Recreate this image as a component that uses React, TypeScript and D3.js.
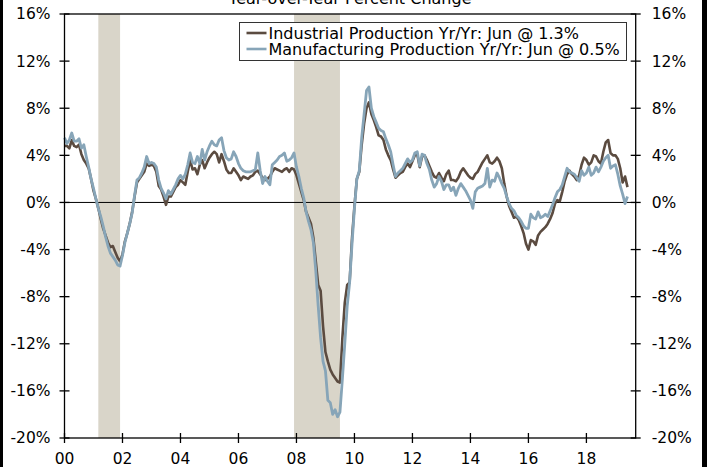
import React from 'react';
import * as d3 from 'd3';

const width = 707;
const height = 467;
const margin = { top: 14, right: 71.3, bottom: 29, left: 64.5 };

// monthly values, Jan 2000 .. Jun 2019
const ipValues = [
  4.8, 4.8, 4.6, 5.3, 4.8, 4.7, 4.9, 4.1, 3.6, 3.3, 2.9, 2.0,
  1.0, 0.3, -0.5, -1.4, -2.2, -2.8, -3.4, -3.8, -3.7, -4.2, -4.7, -5.0,
  -4.4, -3.3, -2.6, -1.8, -0.8, 0.5, 1.7, 2.0, 2.3, 2.6, 3.3, 3.1,
  3.2, 3.1, 2.6, 1.4, 1.1, 0.5, -0.2, 0.5, 0.5, 0.9, 1.3, 1.5,
  1.9, 1.7, 1.5, 2.6, 3.6, 2.8, 2.9, 2.4, 3.2, 3.6, 2.9, 3.4,
  3.8, 4.1, 4.3, 4.1, 3.4, 4.1, 3.5, 2.8, 2.5, 2.5, 2.9, 2.6,
  2.3, 1.9, 2.2, 2.1, 2.0, 2.2, 2.3, 2.6, 2.7, 2.4, 2.1, 1.9,
  2.0, 2.2, 2.6, 2.9, 2.8, 2.7, 2.6, 2.8, 2.9, 2.6, 2.9, 2.8,
  2.3, 1.6, 0.9, 0.2, -0.8, -1.3, -1.8, -3.0, -5.0, -7.0, -7.5, -10.5,
  -12.7, -13.5, -14.2, -14.6, -14.9, -15.2, -15.3, -11.5, -8.5, -7.0, -6.8, -3.0,
  -0.3, 2.0, 2.6, 4.9, 6.7, 8.0, 8.5, 7.5, 7.0, 6.4, 5.7, 5.6,
  5.3, 4.5, 4.0, 3.6, 2.8, 2.1, 2.3, 2.5, 2.6, 3.0, 3.3, 3.0,
  3.5, 4.0, 4.1, 3.0, 3.9, 4.0, 3.6, 3.1, 2.6, 2.2, 2.1, 2.5,
  2.1, 1.8, 2.4, 2.7, 1.9, 1.9, 1.8, 2.1, 2.6, 2.9, 2.6, 2.3,
  2.1, 2.0, 2.4, 2.6, 3.0, 3.4, 3.7, 4.0, 3.4, 3.3, 3.5, 3.8,
  3.5, 2.9, 1.6, 0.5, -0.3, -0.8, -1.3, -1.2, -1.5, -2.0, -2.6, -3.5,
  -4.0, -3.2, -3.3, -3.6, -2.8, -2.5, -2.3, -2.1, -1.8, -1.4, -0.9, -0.1,
  0.2, 0.1, 0.9, 1.8, 2.4, 2.7, 2.4, 2.2, 1.9, 2.3, 3.2, 3.8,
  3.6, 3.2, 3.4, 4.0, 3.9, 3.5, 3.3, 4.3, 5.1, 5.3, 4.2, 4.0,
  4.0, 3.7, 2.9, 1.7, 2.2, 1.3,
];

const mfgValues = [
  5.5, 5.0, 5.3, 5.9, 5.2, 5.2, 5.4, 4.6, 4.9, 3.9, 3.0, 2.0,
  1.2, 0.3, -0.5, -1.2, -2.0, -2.9, -3.7, -4.3, -4.6, -4.9, -5.3, -5.4,
  -4.5, -3.4, -2.6, -1.8, -0.9, 0.6, 1.9, 2.1, 2.5, 3.0, 3.9, 3.3,
  3.4, 3.3, 3.0, 1.9, 1.2, 0.8, 0.3, 1.0, 0.7, 1.1, 1.5, 2.0,
  2.3, 2.0, 2.4, 3.2, 4.2, 3.4, 3.3, 3.9, 3.3, 4.5, 3.6, 4.3,
  4.8, 5.2, 4.9, 4.8, 5.3, 5.5, 4.4, 3.8, 3.6, 3.7, 4.3, 3.9,
  3.3, 2.9, 2.7, 2.6, 2.6, 2.6, 2.7, 2.8, 4.2, 2.7, 1.6, 2.2,
  1.8, 1.5, 3.2, 3.4, 3.6, 3.9, 4.0, 4.2, 3.5, 3.6, 3.8, 4.2,
  3.0, 2.2, 1.2, 0.4, -0.8, -1.6, -2.3, -3.4, -5.8, -8.8, -11.5, -13.5,
  -14.3, -16.8, -17.0, -18.0, -17.6, -18.2, -17.8, -15.0, -12.0, -8.8, -6.8, -3.5,
  -0.5, 2.0, 2.7, 5.5, 7.5, 9.5, 9.8, 8.0, 7.3, 6.8, 6.3, 6.1,
  6.0, 5.4, 4.9, 4.3, 3.2, 2.2, 2.5, 2.7, 2.9, 3.3, 3.7, 3.4,
  3.6, 4.2, 4.3, 3.1, 4.1, 4.0, 3.3, 2.8, 1.9, 1.3, 1.6, 2.2,
  1.8, 1.1, 1.5, 1.5, 1.0, 1.3, 0.6, 1.2, 1.6, 1.3, 1.0, 0.6,
  0.2, -0.5, 0.9, 1.2, 1.3, 1.4, 1.6, 2.9, 1.3, 1.9, 1.8, 2.5,
  2.1, 1.6, 1.2, 0.5, -0.1, -0.5, -0.7, -1.1, -1.3, -1.6, -2.0, -2.2,
  -2.2, -1.0, -1.3, -1.4, -0.8, -1.3, -1.2, -1.0, -1.2, -0.7, -0.2, 0.4,
  0.9, 1.1, 1.5, 2.2, 2.9, 2.6, 2.5, 2.4, 2.1, 1.8, 2.7, 2.3,
  2.5, 3.0, 2.3, 2.5, 3.0, 2.6, 3.0, 3.5, 3.8, 4.0, 2.9, 3.1,
  3.2, 2.4, 1.4, 0.7, -0.1, 0.5,
];

// recessions (decimal years)
const recessions = [
  [2001 + 2 / 12, 2001 + 11 / 12],
  [2007 + 11 / 12, 2009 + 6 / 12],
];

const xTicks = [2000, 2002, 2004, 2006, 2008, 2010, 2012, 2014, 2016, 2018];
const yTicks = [-20, -16, -12, -8, -4, 0, 4, 8, 12, 16];

const legendLabels = [
  'Industrial Production Yr/Yr: Jun @ 1.3%',
  'Manufacturing Production Yr/Yr: Jun @ 0.5%',
];
const colors = ['#5b4b40', '#87a5b8'];
const font = 'Verdana, "DejaVu Sans", sans-serif';

const App = () => {
  const innerWidth = width - margin.left - margin.right;
  const innerHeight = height - margin.top - margin.bottom;

  const xScale = d3.scaleLinear().domain([2000, 2019.7]).range([0, innerWidth]);
  const yScale = d3.scaleLinear().domain([-20, 16]).range([innerHeight, 0]);

  const line = d3
    .line<number>()
    .x((d, i) => xScale(2000 + i / 12))
    .y(d => yScale(d));

  const series = [ipValues, mfgValues];

  return (
    <div style={{ position: 'fixed', left: 0, top: 0 }}>
      <svg width={width} height={height} style={{ display: 'block', background: '#fff' }}>
        <text x={350} y={3.5} textAnchor="middle" fontFamily={font} fontSize={16}>
          Year-over-Year Percent Change
        </text>
        <g transform={`translate(${margin.left},${margin.top})`}>
          {recessions.map(([a, b]) => (
            <rect
              key={a}
              x={xScale(a)}
              y={0}
              width={xScale(b) - xScale(a)}
              height={innerHeight}
              fill="#d9d5c9"
            />
          ))}
          <line x1={0} x2={innerWidth} y1={yScale(0)} y2={yScale(0)} stroke="#000" strokeWidth={1} />
          {series.map((s, i) => (
            <path
              key={i}
              d={line(s) || ''}
              fill="none"
              stroke={colors[i]}
              strokeWidth={i === 0 ? 2.6 : 2.8}
              strokeLinejoin="round"
            />
          ))}
          {/* frame */}
          <rect x={0} y={0} width={innerWidth} height={innerHeight} fill="none" stroke="#000" strokeWidth={1.3} />
          {yTicks.map(t => (
            <g key={t} transform={`translate(0,${yScale(t)})`}>
              <line x1={-5} x2={5} stroke="#000" strokeWidth={1.3} />
              <line x1={innerWidth - 5} x2={innerWidth + 5} stroke="#000" strokeWidth={1.3} />
              <text x={-14} dy="0.35em" textAnchor="end" fontFamily={font} fontSize={15.5}>
                {t}%
              </text>
              <text x={innerWidth + 16} dy="0.35em" textAnchor="start" fontFamily={font} fontSize={15.5}>
                {t}%
              </text>
            </g>
          ))}
          {xTicks.map(t => (
            <g key={t} transform={`translate(${xScale(t)},${innerHeight})`}>
              <line y1={-5} y2={5} stroke="#000" strokeWidth={1.3} />
              <text y={26} textAnchor="middle" fontFamily={font} fontSize={15.5}>
                {d3.format('02d')(t % 100)}
              </text>
            </g>
          ))}
        </g>
        {/* legend */}
        <g transform="translate(239.5,22.5)">
          <rect width={387} height={38} fill="#fff" stroke="#333" strokeWidth={1} />
          {legendLabels.map((label, i) => (
            <g key={label} transform={`translate(0,${10.5 + i * 16})`}>
              <line x1={7} x2={27} stroke={colors[i]} strokeWidth={2.6} />
              <text x={29} dy="0.35em" fontFamily={font} fontSize={16}>
                {label}
              </text>
            </g>
          ))}
        </g>
        <rect x={0} y={0} width={3} height={height} fill="#000" />
        <rect x={702} y={0} width={5} height={height} fill="#000" />
      </svg>
    </div>
  );
};

export default App;
